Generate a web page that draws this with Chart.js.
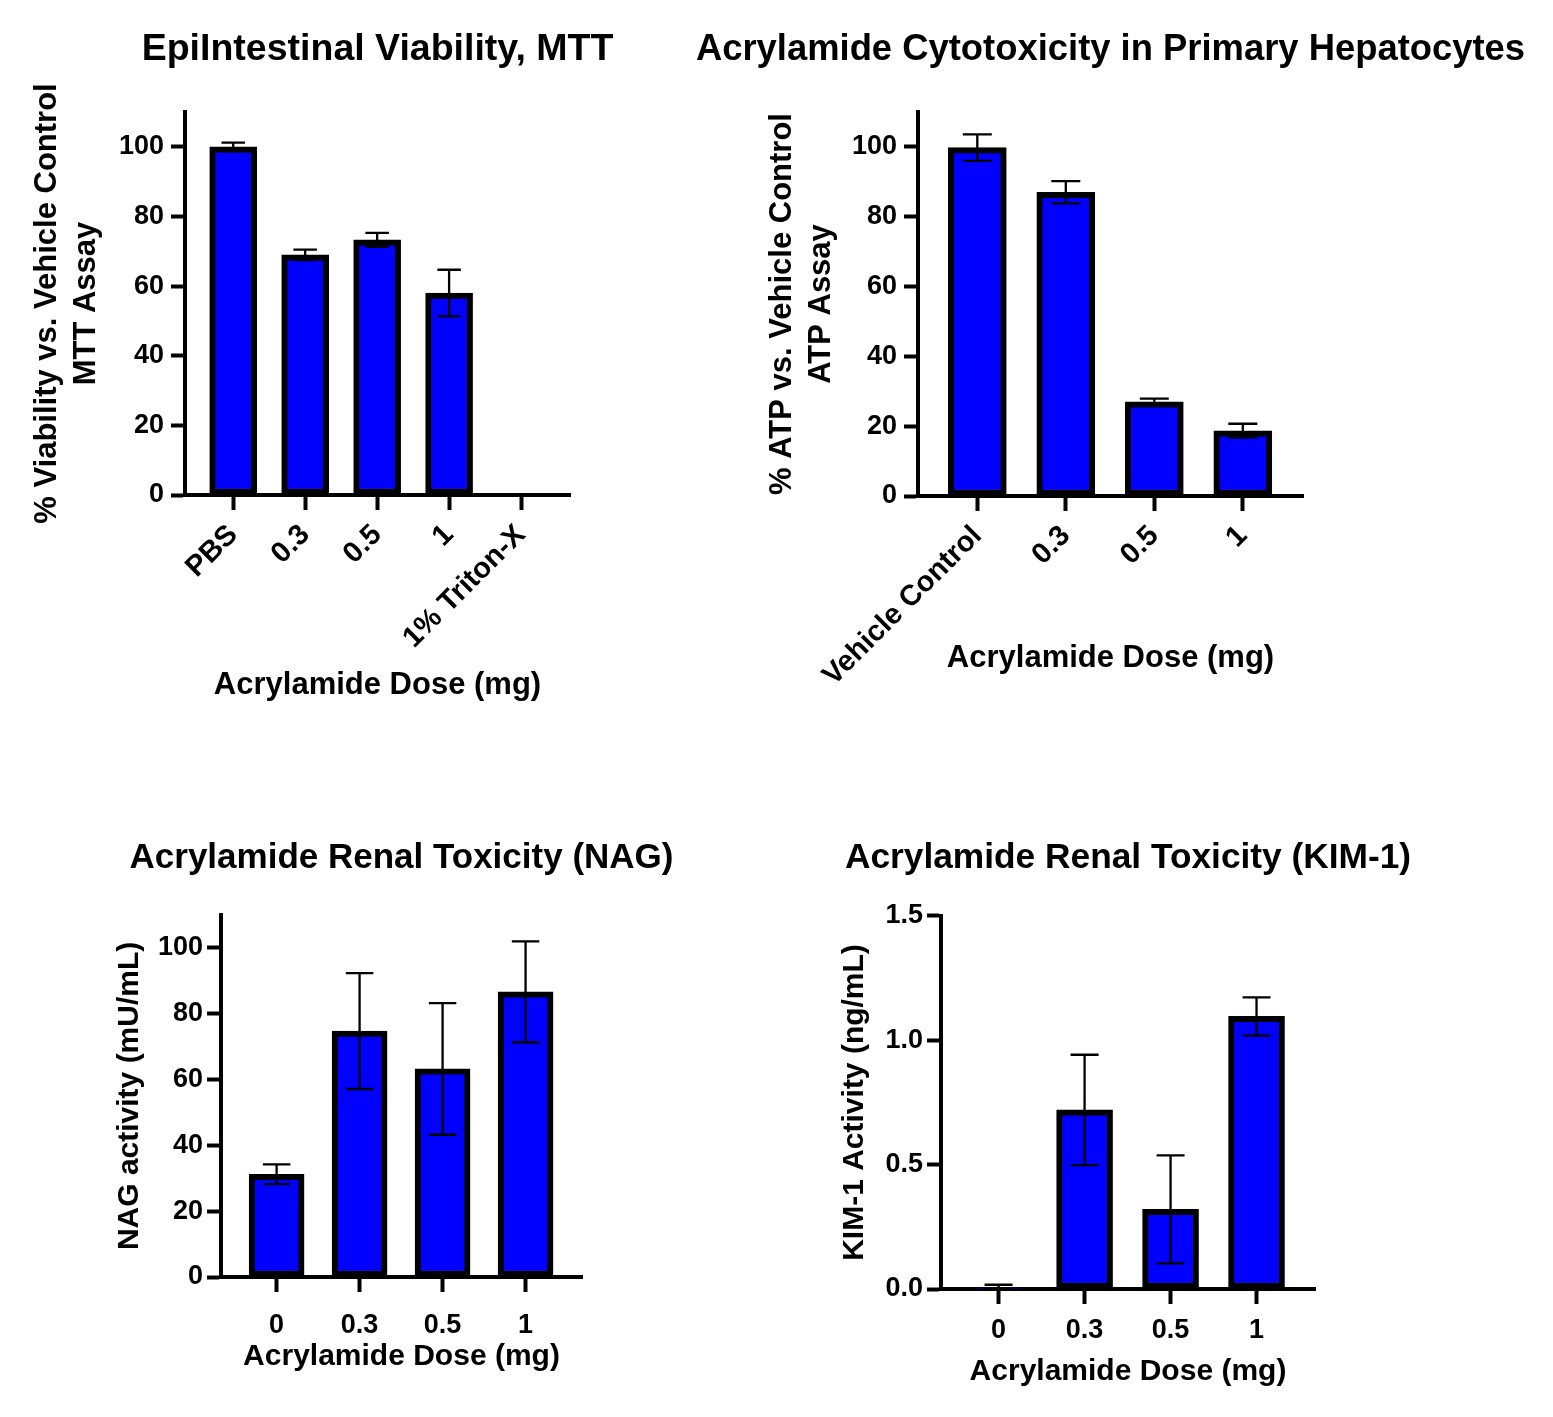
<!DOCTYPE html>
<html>
<head>
<meta charset="utf-8">
<script src="https://cdn.jsdelivr.net/npm/chart.js@4.4.1/dist/chart.umd.min.js"></script>
<style>
  body { margin: 0; background: #fff; }
  #wrap { position: relative; width: 1553px; height: 1417px; background: #fff; }
  canvas { position: absolute; }
</style>
</head>
<body>
<div id="wrap">
  <canvas id="mtt"></canvas>
  <canvas id="atp"></canvas>
  <canvas id="nag"></canvas>
  <canvas id="kim"></canvas>
</div>
<script>
// values (mean and error bar half-length)
const mttLabels = ['PBS', '0.3', '0.5', '1', '1% Triton-X']
const mttMeans = [100, 69, 73.3, 58, 0]
const mttErr = [1.2, 1.5, 2, 6.7, 0]

const atpLabels = ['Vehicle Control', '0.3', '0.5', '1']
const atpMeans = [99.8, 87, 27, 18.7]
const atpErr = [3.8, 3.2, 0.9, 2.0]

const doseLabels = ['0', '0.3', '0.5', '1']
const nagMeans = [31.2, 74.7, 63.2, 86.6]
const nagErr = [3, 17.6, 20, 15.3]

const kimMeans = [0.005, 0.72, 0.32, 1.096]
const kimErr = [0.012, 0.222, 0.217, 0.077]

const pctTicks = [0, 20, 40, 60, 80, 100]
const kimTicks = [0, 0.5, 1, 1.5]

const FONT = "'Liberation Sans', Arial, Helvetica, sans-serif"

// draws the error bars from the y scale
const errorBars = {
  id: 'errorBars',
  afterDatasetsDraw(chart) {
    const ctx = chart.ctx
    const y = chart.scales.y
    const ds = chart.data.datasets[0]
    const meta = chart.getDatasetMeta(0)
    ctx.save()
    ctx.strokeStyle = '#000'
    ctx.lineWidth = 2.3
    meta.data.forEach(function (bar, i) {
      const e = ds.errors[i]
      if (!e) return
      const v = ds.data[i].y
      const top = y.getPixelForValue(v + e)
      const bot = y.getPixelForValue(Math.max(v - e, 0))
      const half = bar.width / 4
      ctx.beginPath()
      ctx.moveTo(bar.x, top); ctx.lineTo(bar.x, bot)
      ctx.moveTo(bar.x - half, top); ctx.lineTo(bar.x + half, top)
      ctx.moveTo(bar.x - half, bot); ctx.lineTo(bar.x + half, bot)
      ctx.stroke()
    })
    ctx.restore()
  }
}

function makePanel(p) {
  const canvas = document.getElementById(p.id)
  canvas.width = p.W
  canvas.height = p.H
  canvas.style.left = p.L + 'px'
  canvas.style.top = p.T + 'px'

  const points = p.means.map(function (m, i) { return { x: i, y: m } })

  new Chart(canvas, {
    type: 'bar',
    data: {
      datasets: [{
        data: points,
        errors: p.errors,
        backgroundColor: '#0000ff',
        borderColor: '#000',
        borderWidth: 6,
        borderSkipped: false,
        barThickness: p.barW
      }]
    },
    options: {
      responsive: false,
      animation: false,
      plugins: {
        legend: { display: false },
        tooltip: { enabled: false },
        title: {
          display: true,
          text: p.title,
          color: '#000',
          font: { family: FONT, size: p.titleSize, weight: 'bold', lineHeight: 1.2 },
          padding: { top: p.titleTop, bottom: p.titleBottom }
        }
      },
      scales: {
        x: {
          type: 'linear',
          offset: false,
          min: -0.67,
          max: p.labels.length - 1 + 0.68,
          afterBuildTicks: function (s) {
            s.ticks = p.labels.map(function (l, i) { return { value: i } })
          },
          afterFit: function (s) { s.height = p.xh },
          grid: { display: true, offset: false, drawOnChartArea: false, tickLength: 15, tickWidth: 4, tickColor: '#000' },
          border: { display: true, width: 4, color: '#000' },
          ticks: {
            autoSkip: false,
            minRotation: p.rot,
            maxRotation: p.rot,
            padding: p.xPad,
            color: '#000',
            font: { family: FONT, size: p.xFont, weight: 'bold' },
            callback: function (v) { return p.labels[v] }
          },
          title: {
            display: true,
            text: 'Acrylamide Dose (mg)',
            color: '#000',
            font: { family: FONT, size: p.axisSize, weight: 'bold', lineHeight: 1.2 },
            padding: { top: 0, bottom: p.xTitlePad }
          }
        },
        y: {
          min: 0,
          max: p.yMax,
          afterBuildTicks: function (s) {
            s.ticks = p.yTicks.map(function (v) { return { value: v } })
          },
          afterFit: function (s) { s.width = p.yw },
          grid: { display: true, drawOnChartArea: false, tickLength: 14, tickWidth: 4, tickColor: '#000' },
          border: { display: true, width: 4, color: '#000' },
          ticks: {
            padding: p.yPad,
            color: '#000',
            font: { family: FONT, size: 27, weight: 'bold' },
            callback: p.yFmt
          },
          title: {
            display: true,
            text: p.yTitle,
            color: '#000',
            font: { family: FONT, size: p.axisSize, weight: 'bold', lineHeight: 1.25 },
            padding: { top: p.yTitlePad, bottom: 0 }
          }
        },
        // empty right-hand box, keeps the plot centred under its title
        spacer: {
          position: 'right',
          grid: { display: false, drawTicks: false },
          border: { display: false },
          ticks: { display: false },
          afterFit: function (s) { s.width = p.padR }
        }
      }
    },
    plugins: [errorBars]
  })
}

const plain = function (v) { return v }
const oneDec = function (v) { return v.toFixed(1) }

makePanel({
  id: 'mtt', L: 0, T: 0, W: 755, H: 730, yw: 185, padR: 185, xh: 235,
  title: 'EpiIntestinal Viability, MTT', titleSize: 37.5, titleTop: 27.5, titleBottom: 39.5,
  labels: mttLabels, means: mttMeans, errors: mttErr, barW: 47,
  rot: 45, xPad: 8, xFont: 29, xTitlePad: 26, axisSize: 31,
  yMax: 110, yTicks: pctTicks, yFmt: plain, yPad: 7,
  yTitle: ['% Viability vs. Vehicle Control', 'MTT Assay'], yTitlePad: 28.25
})

makePanel({
  id: 'atp', L: 670, T: 0, W: 881, H: 730, yw: 248, padR: 248, xh: 234,
  title: 'Acrylamide Cytotoxicity in Primary Hepatocytes', titleSize: 36.4, titleTop: 28.2, titleBottom: 40.1,
  labels: atpLabels, means: atpMeans, errors: atpErr, barW: 58,
  rot: 45, xPad: 8, xFont: 29, xTitlePad: 53, axisSize: 31,
  yMax: 110, yTicks: pctTicks, yFmt: plain, yPad: 7,
  yTitle: ['% ATP vs. Vehicle Control', 'ATP Assay'], yTitlePad: 93.25
})

makePanel({
  id: 'nag', L: 61, T: 780, W: 681, H: 620, yw: 160, padR: 160, xh: 123,
  title: 'Acrylamide Renal Toxicity (NAG)', titleSize: 35, titleTop: 57.4, titleBottom: 35.4,
  labels: doseLabels, means: nagMeans, errors: nagErr, barW: 55,
  rot: 0, xPad: 17, xFont: 27, xTitlePad: 25, axisSize: 30,
  yMax: 110, yTicks: pctTicks, yFmt: plain, yPad: 4,
  yTitle: 'NAG activity (mU/mL)', yTitlePad: 50.25
})

makePanel({
  id: 'kim', L: 798, T: 780, W: 660, H: 635, yw: 143, padR: 143, xh: 126,
  title: 'Acrylamide Renal Toxicity (KIM-1)', titleSize: 35.3, titleTop: 57.2, titleBottom: 36.4,
  labels: doseLabels, means: kimMeans, errors: kimErr, barW: 56,
  rot: 0, xPad: 10, xFont: 27, xTitlePad: 25, axisSize: 30,
  yMax: 1.5, yTicks: kimTicks, yFmt: oneDec, yPad: 4,
  yTitle: 'KIM-1 Activity (ng/mL)', yTitlePad: 38.25
})
</script>
</body>
</html>
